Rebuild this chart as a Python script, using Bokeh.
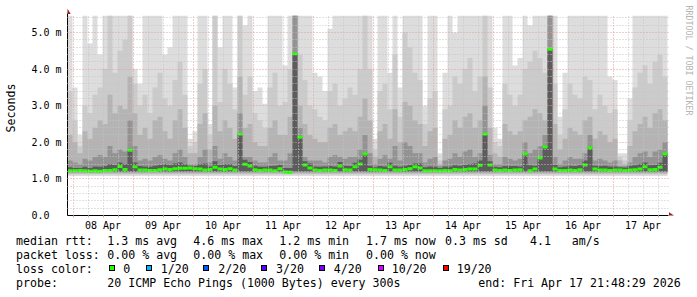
import math
from bokeh.plotting import figure
from bokeh.layouts import column
from bokeh.models import Range1d, FixedTicker, Label, PolyAnnotation, Div
from bokeh.embed import file_html
from bokeh.resources import INLINE

# ---------------- data (hours relative to 08 Apr 00:00; 2 h bins) ----------------
START_HOURS = -2.2          # Tue Apr 07 21:48:29
BIN_HOURS = 2.0
GRAPH_TOP_MS = 5.46         # rrd graph upper limit

median_ms = [
    1.22, 1.22, 1.23, 1.22, 1.21, 1.22, 1.21, 1.23, 1.23, 1.25,
    1.34, 1.26, 1.78, 1.33, 1.24, 1.24, 1.23, 1.23, 1.25, 1.27,
    1.26, 1.28, 1.29, 1.29, 1.30, 1.28, 1.27, 1.24, 1.26, 1.32,
    1.27, 1.26, 1.28, 1.24, 2.23, 1.40, 1.35, 1.25, 1.23, 1.24,
    1.24, 1.22, 1.28, 1.19, 1.18, 4.42, 2.14, 1.38, 1.30, 1.24,
    1.23, 1.24, 1.24, 1.23, 1.35, 1.25, 1.24, 1.33, 1.41, 1.68,
    1.26, 1.25, 1.24, 1.23, 1.33, 1.24, 1.24, 1.26, 1.28, 1.33,
    1.30, 1.22, 1.22, 1.22, 1.22, 1.23, 1.22, 1.26, 1.24, 1.26,
    1.27, 1.27, 1.37, 2.23, 1.38, 1.24, 1.23, 1.24, 1.23, 1.24,
    1.25, 1.68, 1.22, 1.27, 1.57, 1.87, 4.54, 1.27, 1.23, 1.23,
    1.24, 1.23, 1.25, 1.38, 1.85, 1.27, 1.24, 1.24, 1.23, 1.24,
    1.24, 1.23, 1.24, 1.25, 1.27, 1.33, 1.25, 1.26, 1.32, 1.68,
]
smoke_q0 = [
    1.32, 1.30, 1.30, 1.33, 1.30, 1.34, 1.33, 1.35, 1.40, 1.38,
    1.45, 1.40, 1.78, 1.45, 1.35, 1.34, 1.33, 1.36, 1.38, 1.40,
    1.38, 1.42, 1.45, 1.40, 1.36, 1.35, 1.40, 1.42, 1.34, 1.48,
    1.38, 1.40, 1.40, 1.35, 2.23, 1.52, 1.46, 1.36, 1.33, 1.33,
    1.35, 1.36, 1.38, 1.30, 1.30, 4.42, 2.14, 1.48, 1.42, 1.34,
    1.33, 1.34, 1.35, 1.34, 1.46, 1.36, 1.35, 1.44, 1.52, 1.68,
    1.36, 1.32, 1.35, 1.34, 1.44, 1.36, 1.33, 1.36, 1.38, 1.42,
    1.42, 1.32, 1.34, 1.33, 1.30, 1.34, 1.34, 1.37, 1.36, 1.38,
    1.40, 1.42, 1.50, 2.23, 1.48, 1.33, 1.32, 1.35, 1.35, 1.35,
    1.34, 1.68, 1.37, 1.36, 1.57, 1.87, 4.54, 1.38, 1.32, 1.34,
    1.36, 1.35, 1.37, 1.50, 1.85, 1.36, 1.35, 1.36, 1.34, 1.34,
    1.32, 1.31, 1.35, 1.37, 1.40, 1.45, 1.37, 1.38, 1.44, 1.68,
]
smoke_q1 = [
    1.50, 1.45, 1.40, 1.55, 1.50, 1.60, 1.65, 1.60, 1.90, 1.70,
    1.80, 1.75, 2.60, 1.90, 1.50, 1.55, 1.50, 1.60, 1.65, 1.55,
    1.50, 1.70, 1.80, 1.60, 1.40, 1.40, 1.60, 1.80, 1.45, 1.90,
    1.55, 1.70, 1.60, 1.50, 2.80, 1.60, 1.60, 1.50, 1.45, 1.45,
    1.60, 1.70, 1.50, 1.50, 1.70, 5.50, 2.40, 1.60, 1.50, 1.50,
    1.50, 1.45, 1.60, 1.65, 1.60, 1.55, 1.60, 1.60, 1.80, 2.20,
    1.70, 1.40, 1.55, 1.65, 1.55, 1.90, 1.50, 2.00, 1.90, 1.70,
    1.70, 1.45, 1.55, 1.60, 1.35, 1.50, 1.55, 1.70, 1.60, 1.75,
    1.80, 1.60, 1.70, 3.00, 1.65, 1.40, 1.40, 1.60, 1.55, 1.50,
    1.55, 2.00, 1.70, 1.80, 1.90, 2.20, 5.50, 1.60, 1.40, 1.50,
    1.60, 1.55, 1.55, 1.70, 2.20, 1.50, 1.55, 1.50, 1.45, 1.50,
    1.35, 1.35, 1.45, 1.60, 1.70, 1.75, 1.60, 1.75, 1.80, 2.00,
]
smoke_q2 = [
    2.2, 2.0, 1.7, 2.3, 2.1, 2.4, 2.6, 2.5, 3.3, 2.8,
    3.0, 2.9, 3.8, 2.8, 2.2, 2.4, 2.1, 2.6, 2.7, 2.3,
    2.1, 2.6, 2.9, 2.4, 1.7, 1.7, 2.5, 2.8, 1.8, 3.0,
    2.3, 2.6, 2.4, 2.1, 3.8, 2.4, 2.5, 2.0, 1.9, 1.9,
    2.4, 2.6, 2.2, 2.2, 2.7, 5.5, 3.0, 2.5, 2.2, 2.1,
    2.0, 2.0, 2.4, 2.5, 2.2, 2.3, 2.4, 2.3, 2.7, 3.2,
    2.6, 1.6, 2.3, 2.5, 2.1, 2.9, 2.0, 3.1, 3.0, 2.6,
    2.5, 1.9, 2.3, 2.4, 1.4, 2.1, 2.2, 2.6, 2.4, 2.7,
    2.8, 2.4, 2.6, 3.8, 2.4, 1.7, 1.6, 2.5, 2.3, 2.2,
    2.3, 2.6, 2.7, 2.9, 2.8, 2.6, 5.5, 2.5, 1.8, 2.1,
    2.4, 2.3, 2.2, 2.6, 2.7, 2.1, 2.3, 2.2, 2.0, 2.1,
    1.5, 1.4, 1.9, 2.3, 2.5, 2.7, 2.4, 2.8, 2.9, 2.6,
]
smoke_q3 = [
    3.4, 2.6, 1.9, 3.0, 2.8, 3.3, 3.5, 4.0, 5.5, 3.9,
    4.5, 4.8, 5.5, 3.6, 3.0, 3.3, 2.8, 3.5, 3.9, 3.2,
    3.0, 3.7, 4.2, 3.3, 1.9, 2.0, 3.6, 4.0, 2.2, 5.5,
    3.1, 4.0, 3.6, 2.9, 5.5, 3.3, 3.8, 2.8, 2.6, 2.4,
    3.5, 3.9, 3.0, 3.1, 4.0, 5.5, 4.4, 3.7, 3.0, 2.9,
    2.7, 2.6, 3.4, 3.6, 3.0, 3.2, 3.5, 3.3, 4.0, 5.5,
    4.0, 1.8, 3.4, 3.6, 2.9, 4.4, 2.7, 5.0, 4.6, 3.9,
    3.7, 2.5, 3.2, 3.4, 1.5, 2.9, 3.0, 3.8, 3.6, 4.0,
    4.3, 3.4, 3.8, 5.5, 3.5, 2.0, 1.9, 3.6, 3.3, 3.0,
    3.3, 4.0, 4.2, 4.5, 4.3, 3.9, 5.5, 3.6, 2.2, 2.9,
    3.6, 3.3, 3.2, 3.8, 3.7, 2.9, 3.3, 3.0, 2.8, 2.9,
    1.6, 1.5, 2.6, 3.5, 3.9, 4.1, 3.6, 4.2, 4.4, 3.8,
]
smoke_max = [
    5.5, 3.5, 2.2, 5.5, 4.7, 5.5, 4.4, 5.5, 5.5, 5.5,
    5.5, 5.5, 5.5, 4.0, 3.6, 5.5, 5.5, 5.5, 5.5, 4.4,
    4.6, 5.5, 5.5, 5.5, 2.1, 2.3, 5.5, 5.5, 2.5, 5.5,
    4.6, 5.5, 5.5, 3.5, 5.5, 5.2, 5.5, 3.4, 3.5, 3.05,
    5.5, 5.5, 5.5, 4.1, 5.5, 5.5, 5.5, 5.5, 5.5, 3.9,
    3.8, 3.4, 5.1, 5.5, 5.5, 5.5, 5.5, 5.5, 5.5, 5.5,
    5.5, 2.1, 5.5, 5.5, 3.9, 5.5, 3.5, 5.5, 5.5, 5.5,
    5.5, 3.0, 5.5, 5.5, 1.7, 3.9, 5.5, 5.0, 5.5, 5.5,
    5.5, 5.5, 5.5, 5.5, 5.5, 2.4, 2.1, 5.5, 5.5, 4.1,
    4.3, 5.5, 5.2, 5.5, 5.5, 5.5, 5.5, 5.5, 2.7, 3.9,
    5.5, 5.5, 5.5, 5.5, 5.5, 5.5, 5.5, 5.5, 3.8, 3.7,
    1.7, 1.7, 3.2, 5.5, 5.5, 5.5, 5.5, 5.5, 5.5, 5.5,
]
# lower edges of the smoke bands (fastest pings)
smoke_lower = {"max": 1.08, "q3": 1.12, "q2": 1.15, "q1": 1.18, "q0": 1.20}

day_labels = ["08 Apr", "09 Apr", "10 Apr", "11 Apr", "12 Apr",
              "13 Apr", "14 Apr", "15 Apr", "16 Apr", "17 Apr"]
y_ticks = [0, 1, 2, 3, 4, 5]
y_tick_labels = ["0.0", "1.0 m", "2.0 m", "3.0 m", "4.0 m", "5.0 m"]

legend_rtt = [("1.3 ms avg", 107.3), ("4.6 ms max", 193.3), ("1.2 ms min", 279.3),
              ("1.7 ms now", 366.0), ("0.3 ms sd", 445.0), ("4.1", 530.0), ("am/s", 571.7)]
legend_loss = [("0.00 % avg", 107.3), ("0.00 % max", 193.3), ("0.00 % min", 279.3),
               ("0.00 % now", 366.0)]
loss_names = ["0", "1/20", "2/20", "3/20", "4/20", "10/20", "19/20"]
loss_colors = ["#26ff00", "#00b8ff", "#0059ff", "#5e00ff", "#7e00ff", "#dd00ff", "#ff0000"]
loss_box_x = [108.5, 145.5, 203.0, 261.0, 319.0, 378.0, 442.5]
loss_text_x = [123.3, 160.7, 218.3, 276.0, 333.8, 391.7, 456.7]
probe_text = "20 ICMP Echo Pings (1000 Bytes) every 300s"
end_text = "end: Fri Apr 17 21:48:29 2026"

# ---------------- chart figure ----------------
W = 697
AXIS_Y = 215                  # canvas row of the time axis
BOTTOM = 18                   # room for the day labels
H1 = AXIS_Y + BOTTOM          # chart part
H2 = 297 - H1                 # legend part
LEFT, TOP = 67, 0
PX_PER_H = 2.5
PX_PER_MS = 36.6
FONT = "DejaVu Sans Mono"
FS = "11.6px"

x0 = START_HOURS
x1 = START_HOURS + (W - LEFT) / PX_PER_H
y1 = (AXIS_Y - TOP) / PX_PER_MS
AXIS_END_H = START_HOURS + 240.4

p = figure(width=W, height=H1, output_backend="svg", toolbar_location=None,
           x_range=Range1d(x0, x1), y_range=Range1d(0, y1),
           min_border_left=LEFT, min_border_right=0,
           min_border_top=TOP, min_border_bottom=BOTTOM)
p.outline_line_color = None
p.background_fill_color = "white"
p.border_fill_color = "white"

n = len(median_ms)
edges = [START_HOURS + BIN_HOURS * i for i in range(n + 1)]
lefts = edges[:-1]
rights = edges[1:]

def clipped(vals):
    v = [min(a, GRAPH_TOP_MS) for a in vals]
    return v + [v[-1]]

bands = [("max", smoke_max, "#dddddd"), ("q3", smoke_q3, "#cbcbcb"),
         ("q2", smoke_q2, "#b4b4b4"), ("q1", smoke_q1, "#939393"),
         ("q0", smoke_q0, "#5c5c5c")]
for key, vals, col in bands:
    p.varea_step(x=edges, y1=[smoke_lower[key]] * (n + 1), y2=clipped(vals),
                 step_mode="after", fill_color=col)

p.segment(x0=lefts, y0=median_ms, x1=rights, y1=median_ms,
          line_color="#26ff00", line_width=3, line_cap="butt")

# grid
midnights = [24 * k for k in range(10)]
six_hours = [6 * j for j in range(40) if j % 4 != 0]
noons = [12 + 24 * k for k in range(10)]

p.xgrid.ticker = FixedTicker(ticks=midnights, minor_ticks=six_hours)
p.ygrid.ticker = FixedTicker(ticks=[1, 2, 3, 4, 5],
                             minor_ticks=[k / 5 for k in range(1, 28) if k % 5])
for g in (p.xgrid, p.ygrid):
    g.level = "overlay"
    g.grid_line_color = "#e49a9a"
    g.grid_line_dash = "1 2"
    g.grid_line_width = 1
    g.minor_grid_line_color = "#c4c4c4"
    g.minor_grid_line_dash = "1 2"
    g.minor_grid_line_width = 1
p.xgrid.cross_bounds = (0, GRAPH_TOP_MS)
p.ygrid.cross_bounds = (START_HOURS, AXIS_END_H)

# axes
NBSP = "\u00a0"
pad = max(len(s) for s in y_tick_labels)
p.xaxis.ticker = FixedTicker(ticks=noons, minor_ticks=[6 * j for j in range(40)])
p.xaxis.major_label_overrides = {t: s for t, s in zip(noons, day_labels)}
p.yaxis.ticker = FixedTicker(ticks=y_ticks)
p.yaxis.major_label_overrides = {t: s + NBSP * (pad - len(s))
                                 for t, s in zip(y_ticks, y_tick_labels)}
p.xaxis.bounds = (START_HOURS - 1.6, AXIS_END_H)
p.yaxis.bounds = (0, 5.52)
for ax in (p.xaxis, p.yaxis):
    ax.axis_line_color = "#000000"
    ax.axis_line_width = 1
    ax.major_tick_line_color = None
    ax.major_tick_out = 0
    ax.major_tick_in = 0
    ax.major_label_text_font = FONT
    ax.major_label_text_font_size = "10px"
    ax.major_label_text_color = "#000000"
p.yaxis.minor_tick_line_color = None
p.xaxis.minor_tick_line_color = "#b0b0b0"
p.xaxis.minor_tick_out = 2
p.xaxis.minor_tick_in = 0
p.xaxis.major_label_standoff = 2
p.yaxis.major_label_standoff = 6
p.yaxis.axis_label = "Seconds"
p.yaxis.axis_label_text_font = FONT
p.yaxis.axis_label_text_font_size = FS
p.yaxis.axis_label_text_font_style = "normal"
p.yaxis.axis_label_text_color = "#000000"
p.yaxis.axis_label_standoff = 10

# arrows (frame-relative screen px)
FB = AXIS_Y
ARROW = "#a01818"
p.add_layout(PolyAnnotation(xs=[-3.2, 3.2, 0], ys=[FB - 13.5, FB - 13.5, FB - 8.2],
                            xs_units="screen", ys_units="screen",
                            fill_color=ARROW, fill_alpha=1, line_alpha=0))
p.add_layout(PolyAnnotation(xs=[601.5, 601.5, 606.5], ys=[3.2, -3.2, 0],
                            xs_units="screen", ys_units="screen",
                            fill_color=ARROW, fill_alpha=1, line_alpha=0))

# watermark
p.add_layout(Label(x=688 - LEFT, y=FB - 5, x_units="screen", y_units="screen",
                   text="RRDTOOL / TOBI OETIKER", angle=-math.pi / 2,
                   text_font=FONT, text_font_size="8.3px", text_color="#b4b4b4",
                   text_align="left", text_baseline="middle"))

# ---------------- legend block (HTML text, canvas px positions) ----------------
LINE_H = 14

def span(text, cx, cy):
    return ('<span style="position:absolute;left:%.1fpx;top:%.1fpx;'
            'white-space:pre;line-height:%dpx;">%s</span>'
            % (cx, cy - H1 - LINE_H / 2, LINE_H, text))

def box(cx, col):
    return ('<span style="position:absolute;left:%.1fpx;top:%.1fpx;width:6px;height:6px;'
            'background:%s;border:1px solid #000;"></span>' % (cx, 265.3 - H1, col))

row_y = [241, 255, 269, 283]
parts = [span("median rtt:", 16, row_y[0])]
parts += [span(t, x, row_y[0]) for t, x in legend_rtt]
parts.append(span("packet loss:", 16, row_y[1]))
parts += [span(t, x, row_y[1]) for t, x in legend_loss]
parts.append(span("loss color:", 16, row_y[2]))
for name, col, bx, tx in zip(loss_names, loss_colors, loss_box_x, loss_text_x):
    parts.append(box(bx, col))
    parts.append(span(name, tx, row_y[2]))
parts.append(span("probe:", 16, row_y[3]))
parts.append(span(probe_text, 107.3, row_y[3]))
parts.append(span(end_text, 478.3, row_y[3]))

html = ('<div style="position:relative;width:%dpx;height:%dpx;margin:0;padding:0;'
        'font-family:\'DejaVu Sans Mono\';font-size:%s;color:#000;background:#fff;">%s</div>'
        % (W, H2, FS, "".join(parts)))
legend = Div(text=html, width=W, height=H2, margin=0)

layout = column(p, legend, spacing=0)
open("out.html", "w").write(file_html(layout, INLINE))
